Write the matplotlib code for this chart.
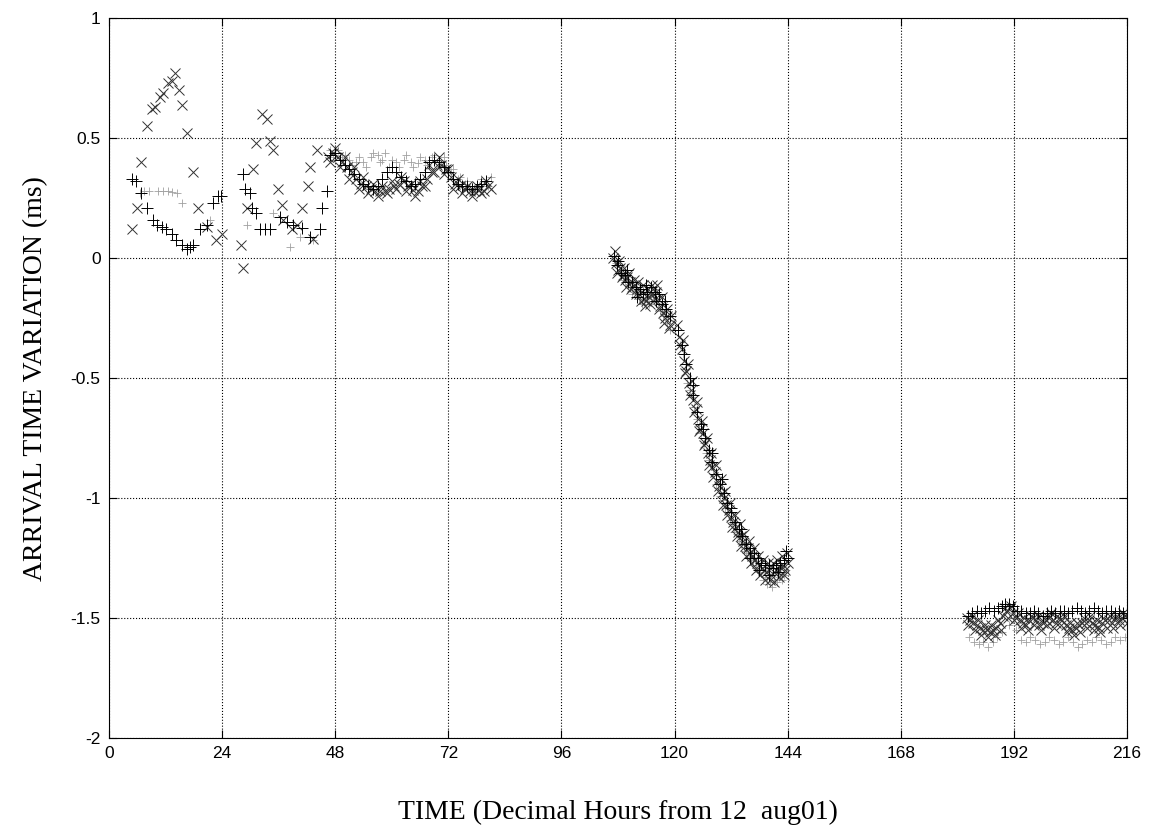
import matplotlib
matplotlib.use("Agg")
import matplotlib.pyplot as plt

plt.rcParams["axes.unicode_minus"] = False

# '+' series (black)
plus_t = [4.8, 5.7, 6.9, 8.0, 9.4, 10.1, 11.2, 12.2, 13.3, 14.3, 15.4, 16.6, 17.2, 17.9,
          19.3, 20.7, 22.1, 23.2, 23.7, 28.5, 28.9, 29.9, 30.3, 31.3, 32.0, 33.1, 34.2,
          36.3, 37.7, 39.1, 40.9, 42.6, 44.8, 45.1, 46.2,
          47, 48, 49, 50, 51, 52, 53, 54, 55, 56, 57, 58, 59, 60, 61, 62, 63, 64, 65, 66,
          67, 68, 69, 70, 71, 72, 73, 74, 75, 76, 77, 78, 79, 80,
          107.2, 107.8, 108.6, 109.4, 110.2, 111, 111.8, 112.6, 113.4, 114.2, 115, 115.8,
          116.6, 117.4, 118.2, 119, 120.8, 121.6, 122.4, 123.2, 124, 124.8, 125.6, 126.4,
          127.2, 128, 128.8, 129.6, 130.4, 131.2, 132, 132.8, 133.6, 134.4, 135.2, 136,
          136.8, 137.6, 138.4, 139.2, 140, 140.8, 141.6, 142.4, 143.2, 144,
          182.3, 183.2, 184.1, 185, 185.9, 186.8, 187.7, 188.6, 189.5, 190.2, 191, 191.8,
          192.7, 193.6, 194.5, 195.4, 196.3, 197.2, 198.1, 199, 199.9, 200.8, 201.7, 202.6,
          203.5, 204.4, 205.3, 206.2, 207.1, 208, 208.9, 209.8, 210.7, 211.6, 212.5, 213.4,
          214.3, 215.2]
plus_v = [0.33, 0.32, 0.27, 0.21, 0.16, 0.14, 0.13, 0.12, 0.10, 0.075, 0.054, 0.04, 0.047, 0.054,
          0.12, 0.14, 0.23, 0.26, 0.26, 0.35, 0.29, 0.27, 0.21, 0.19, 0.12, 0.12, 0.12,
          0.17, 0.15, 0.14, 0.125, 0.09, 0.12, 0.21, 0.28,
          0.43, 0.44, 0.41, 0.39, 0.37, 0.35, 0.33, 0.31, 0.30, 0.29, 0.30, 0.33, 0.36, 0.38,
          0.36, 0.34, 0.32, 0.30, 0.31, 0.33, 0.36, 0.40, 0.41, 0.40, 0.38, 0.36, 0.33, 0.31,
          0.30, 0.30, 0.29, 0.30, 0.31, 0.32,
          0.01, -0.03, -0.06, -0.07, -0.10, -0.10, -0.12, -0.13, -0.15, -0.14, -0.12, -0.14,
          -0.15, -0.19, -0.21, -0.24, -0.30, -0.36, -0.44, -0.50, -0.57, -0.64, -0.69, -0.75,
          -0.80, -0.85, -0.90, -0.94, -0.98, -1.02, -1.06, -1.10, -1.13, -1.16, -1.19, -1.21,
          -1.23, -1.25, -1.27, -1.28, -1.28, -1.29, -1.28, -1.27, -1.26, -1.25,
          -1.49, -1.48, -1.47, -1.48, -1.47, -1.46, -1.47, -1.46, -1.45, -1.44, -1.44, -1.45,
          -1.47, -1.47, -1.48, -1.48, -1.47, -1.48, -1.49, -1.48, -1.47, -1.48, -1.47, -1.47,
          -1.48, -1.47, -1.46, -1.47, -1.48, -1.47, -1.46, -1.47, -1.48, -1.47, -1.47, -1.48,
          -1.47, -1.48]

# more '+' points inside the dense stretch after 107 h
plus2_t = [108, 110, 112, 114, 116, 118, 122, 124, 126, 128, 130, 132, 134, 136, 138, 140,
           142, 143.6]
plus2_v = [-0.01, -0.05, -0.16, -0.11, -0.18, -0.18, -0.40, -0.53, -0.71, -0.81, -0.92,
           -1.04, -1.13, -1.25, -1.30, -1.32, -1.31, -1.22]

# 'x' series (dark)
cross_t = [4.8, 5.9, 6.9, 8.0, 9.1, 9.8, 10.8, 11.5, 12.5, 13.3, 14.0, 14.9, 15.6, 16.5,
           17.8, 18.9, 20.7, 22.8, 23.9, 28.1, 28.4, 29.2, 30.6, 31.3, 32.4, 33.5, 34.2,
           34.9, 35.9, 36.8, 36.9, 38.8, 39.8, 40.9, 42.3, 42.6, 43.3, 44.1,
           46.5, 47.5, 48.5, 49.5, 50.5, 51.5, 52.5, 53.5, 54.5, 55.5, 56.5, 57.5, 58.5,
           59.5, 60.5, 61.5, 62.5, 63.5, 64.5, 65.5, 66.5, 67.5, 68.5, 69.5, 70.5, 71.5,
           72.5, 73.5, 74.5, 75.5, 76.5, 77.5, 78.5, 79.5, 80.5,
           107, 107.5, 108, 108.5, 109, 109.5, 110, 110.5, 111, 111.5, 112, 112.5, 113,
           113.5, 114, 114.5, 115, 115.5, 116, 116.5, 117, 117.5, 118, 118.5, 119,
           121, 121.5, 122, 122.5, 123, 123.5, 124, 124.5, 125, 125.5, 126, 126.5, 127,
           127.5, 128, 128.5, 129, 129.5, 130, 130.5, 131, 131.5, 132, 132.5, 133, 133.5,
           134, 134.5, 135, 135.5, 136, 136.5, 137, 137.5, 138, 138.5, 139, 139.5, 140,
           140.5, 141, 141.5, 142, 142.5, 143, 143.5, 144,
           182, 182.7, 183.4, 184.1, 184.8, 185.5, 186.2, 186.9, 187.6, 188.3, 189, 189.7,
           190.4, 191.1, 191.8, 192.5, 193.2, 193.9, 194.6, 195.3, 196, 196.7, 197.4, 198.1,
           198.8, 199.5, 200.2, 200.9, 201.6, 202.3, 203, 203.7, 204.4, 205.1, 205.8, 206.5,
           207.2, 207.9, 208.6, 209.3, 210, 210.7, 211.4, 212.1, 212.8, 213.5, 214.2, 214.9,
           215.6]
cross_v = [0.12, 0.21, 0.40, 0.55, 0.62, 0.63, 0.67, 0.69, 0.73, 0.74, 0.77, 0.70, 0.64, 0.52,
           0.36, 0.21, 0.13, 0.075, 0.10, 0.054, -0.04, 0.21, 0.37, 0.48, 0.60, 0.58, 0.49,
           0.45, 0.29, 0.22, 0.16, 0.12, 0.14, 0.21, 0.30, 0.38, 0.08, 0.45,
           0.42, 0.44, 0.42, 0.40, 0.38, 0.36, 0.33, 0.31, 0.30, 0.29, 0.28, 0.28, 0.28,
           0.29, 0.30, 0.31, 0.32, 0.30, 0.285, 0.28, 0.30, 0.33, 0.36, 0.39, 0.39, 0.37,
           0.34, 0.31, 0.30, 0.29, 0.28, 0.28, 0.285, 0.28, 0.30,
           0.00, -0.02, -0.05, -0.04, -0.07, -0.09, -0.08, -0.10, -0.12, -0.11, -0.13, -0.15,
           -0.14, -0.17, -0.18, -0.16, -0.15, -0.13, -0.14, -0.17, -0.20, -0.23, -0.25, -0.24,
           -0.28,
           -0.33, -0.38, -0.43, -0.47, -0.52, -0.55, -0.59, -0.63, -0.67, -0.71, -0.73, -0.77,
           -0.81, -0.84, -0.87, -0.89, -0.93, -0.95, -0.98, -1.00, -1.03, -1.05, -1.08, -1.10,
           -1.12, -1.14, -1.16, -1.18, -1.20, -1.21, -1.23, -1.24, -1.26, -1.27, -1.28, -1.29,
           -1.30, -1.31, -1.30, -1.32, -1.31, -1.30, -1.31, -1.29, -1.28, -1.30, -1.27,
           -1.50, -1.51, -1.52, -1.53, -1.54, -1.55, -1.55, -1.56, -1.55, -1.54, -1.52, -1.49,
           -1.47, -1.46, -1.48, -1.50, -1.51, -1.52, -1.53, -1.51, -1.50, -1.51, -1.53, -1.52,
           -1.51, -1.50, -1.51, -1.52, -1.50, -1.51, -1.53, -1.54, -1.55, -1.54, -1.53, -1.52,
           -1.52, -1.51, -1.52, -1.53, -1.54, -1.52, -1.51, -1.51, -1.52, -1.50, -1.51, -1.50,
           -1.49]

# extra 'x' points that give the bands their width
cross2_t = [47, 48, 49, 50, 51, 52, 53, 54, 55, 56, 57, 58, 59, 60, 61, 62, 63, 64, 65, 66,
            67, 68, 69, 70, 71, 72, 73, 74, 75, 76, 77, 78, 79, 80, 81,
            107.3, 107.7, 108.3, 108.8, 109.3, 109.8, 110.3, 110.8, 111.3, 111.8, 112.3,
            112.8, 113.3, 113.8, 114.3, 114.8, 115.3, 115.8, 116.3, 116.8, 117.3, 117.8,
            118.3, 118.8, 119.3,
            120.6, 121.2, 121.8, 122.2, 122.8, 123.2, 123.8, 124.2, 124.8, 125.2, 125.8,
            126.2, 126.8, 127.2, 127.8, 128.2, 128.8, 129.2, 129.8, 130.2, 130.8, 131.2,
            131.8, 132.2, 132.8, 133.2, 133.8, 134.2, 134.8, 135.2, 135.8, 136.2, 136.8,
            137.2, 137.8, 138.2, 138.8, 139.2, 139.8, 140.2, 140.8, 141.2, 141.8, 142.2,
            142.8, 143.3, 143.8,
            182.3, 183, 183.7, 184.4, 185.1, 185.8, 186.5, 187.2, 187.9, 188.6, 189.3, 190,
            190.7, 191.4, 192.1, 192.8, 193.5, 194.2, 194.9, 195.6, 196.3, 197, 197.7, 198.4,
            199.1, 199.8, 200.5, 201.2, 201.9, 202.6, 203.3, 204, 204.7, 205.4, 206.1, 206.8,
            207.5, 208.2, 208.9, 209.6, 210.3, 211, 211.7, 212.4, 213.1, 213.8, 214.5, 215.2,
            215.9]
cross2_v = [0.40, 0.46, 0.38, 0.42, 0.33, 0.38, 0.29, 0.34, 0.27, 0.31, 0.26, 0.30, 0.27,
            0.32, 0.29, 0.34, 0.28, 0.31, 0.26, 0.32, 0.30, 0.39, 0.36, 0.42, 0.35, 0.37,
            0.29, 0.33, 0.27, 0.30, 0.26, 0.30, 0.27, 0.32, 0.29,
            0.03, -0.06, -0.01, -0.08, -0.04, -0.12, -0.06, -0.13, -0.09, -0.15, -0.10,
            -0.18, -0.11, -0.20, -0.13, -0.19, -0.11, -0.17, -0.11, -0.21, -0.16, -0.27,
            -0.21, -0.29, -0.24,
            -0.28, -0.36, -0.34, -0.48, -0.44, -0.57, -0.51, -0.64, -0.60, -0.72, -0.68,
            -0.78, -0.75, -0.86, -0.81, -0.91, -0.86, -0.97, -0.92, -1.03, -0.97, -1.07,
            -1.02, -1.12, -1.07, -1.16, -1.11, -1.20, -1.15, -1.24, -1.18, -1.27, -1.21,
            -1.30, -1.24, -1.32, -1.26, -1.34, -1.27, -1.34, -1.27, -1.35, -1.26, -1.33,
            -1.24, -1.32, -1.23,
            -1.53, -1.49, -1.55, -1.51, -1.57, -1.53, -1.58, -1.53, -1.57, -1.51, -1.55, -1.46,
            -1.50, -1.45, -1.51, -1.48, -1.54, -1.50, -1.55, -1.49, -1.53, -1.49, -1.55, -1.50,
            -1.53, -1.48, -1.54, -1.49, -1.53, -1.49, -1.56, -1.52, -1.57, -1.52, -1.56, -1.50,
            -1.54, -1.49, -1.55, -1.51, -1.56, -1.50, -1.54, -1.49, -1.54, -1.49, -1.53, -1.48,
            -1.52]

# third series (light grey)
gray_t = [6.6, 7.5, 8.5, 10.5, 11.5, 12.5, 13.3, 14.5, 15.4, 21.5, 29.2, 34.9, 38.4, 40.5, 43.3,
          47, 48, 49.5, 51, 52.5, 54, 55.5, 57, 58, 59.5, 61, 62.5, 64, 65.5, 67, 68.5, 70,
          71.5, 72.5, 74, 75.5, 77, 78.5, 80, 81,
          107.5, 108.5, 109.5, 110.5, 111.5, 112.5, 113.5, 114.5, 115.5, 116.5, 117.5, 118.5,
          121.2, 122.2, 123.2, 124.2, 125.2, 126.2, 127.2, 128.2, 129.2, 130.2, 131.2, 132.2,
          133.2, 134.2, 135.2, 136.2, 137.2, 138.2, 139.2, 140.2, 141.2, 142.2, 143.2,
          182.5, 183.5, 184.5, 185.5, 186.5, 187.5, 188.5, 189.5, 191, 192.5, 193.5, 194.5,
          195.5, 196.5, 197.5, 198.5, 199.5, 200.5, 201.5, 202.5, 203.5, 204.5, 205.5, 206.5,
          207.5, 208.5, 209.5, 210.5, 211.5, 212.5, 213.5, 214.5, 215.5]
gray_v = [0.27, 0.28, 0.28, 0.28, 0.28, 0.28, 0.275, 0.27, 0.23, 0.16, 0.14, 0.19, 0.047, 0.09, 0.075,
          0.45, 0.43, 0.42, 0.41, 0.40, 0.40, 0.42, 0.43, 0.41, 0.38, 0.40, 0.41, 0.40, 0.395,
          0.41, 0.42, 0.41, 0.39, 0.36, 0.33, 0.31, 0.30, 0.30, 0.32, 0.34,
          -0.02, -0.06, -0.10, -0.12, -0.14, -0.17, -0.18, -0.19, -0.17, -0.19, -0.24, -0.27,
          -0.36, -0.46, -0.55, -0.62, -0.70, -0.77, -0.84, -0.90, -0.96, -1.01, -1.06, -1.11,
          -1.15, -1.19, -1.23, -1.26, -1.29, -1.31, -1.33, -1.35, -1.34, -1.33, -1.32,
          -1.58, -1.60, -1.61, -1.60, -1.62, -1.60, -1.58, -1.56, -1.53, -1.55, -1.59, -1.60,
          -1.58, -1.59, -1.61, -1.60, -1.58, -1.59, -1.61, -1.60, -1.58, -1.60, -1.62, -1.61,
          -1.59, -1.60, -1.58, -1.59, -1.61, -1.60, -1.58, -1.59, -1.58]

gray2_t = [47.5, 48.5, 50, 51.5, 53, 54.5, 56, 57.5, 58.5, 60, 61.5, 63, 64.5, 66, 67.5, 69,
           70.5, 71, 73, 74.5, 76, 77.5, 79, 80.5,
           108, 109, 110, 111, 112, 113, 114, 115, 116, 117, 118, 119,
           121.7, 122.7, 123.7, 124.7, 125.7, 126.7, 127.7, 128.7, 129.7, 130.7, 131.7, 132.7,
           133.7, 134.7, 135.7, 136.7, 137.7, 138.7, 139.7, 140.7, 141.7, 142.7, 143.7]
gray2_v = [0.42, 0.45, 0.43, 0.39, 0.42, 0.38, 0.44, 0.40, 0.44, 0.41, 0.38, 0.43, 0.38, 0.42,
           0.39, 0.43, 0.39, 0.42, 0.37, 0.34, 0.32, 0.28, 0.33, 0.30,
           -0.02, -0.09, -0.09, -0.15, -0.13, -0.19, -0.15, -0.18, -0.13, -0.22, -0.22, -0.30,
           -0.40, -0.52, -0.58, -0.67, -0.73, -0.81, -0.86, -0.94, -0.99, -1.04, -1.09, -1.14,
           -1.18, -1.22, -1.25, -1.28, -1.31, -1.34, -1.36, -1.37, -1.35, -1.34, -1.30]

x_ticks = [0, 24, 48, 72, 96, 120, 144, 168, 192, 216]
y_ticks = [-2, -1.5, -1, -0.5, 0, 0.5, 1]
y_tick_labels = ["-2", "-1.5", "-1", "-0.5", "0", "0.5", "1"]

fig = plt.figure(figsize=(11.53, 8.32), dpi=100)
ax = fig.add_axes([0.0945, 0.113, 0.883, 0.865])

gray_style = dict(linestyle="none", marker="+", markersize=6, markeredgewidth=0.6,
                  color="#a0a0a0")
cross_style = dict(linestyle="none", marker="x", markersize=7, markeredgewidth=0.7,
                   color="#333333")
plus_style = dict(linestyle="none", marker="+", markersize=9, markeredgewidth=0.7,
                  color="black")

ax.plot(gray_t, gray_v, **gray_style)
ax.plot(gray2_t, gray2_v, **gray_style)
ax.plot(cross_t, cross_v, **cross_style)
ax.plot(cross2_t, cross2_v, **cross_style)
ax.plot(plus_t, plus_v, **plus_style)
ax.plot(plus2_t, plus2_v, **plus_style)

ax.set_xlim(0, 216)
ax.set_ylim(-2, 1)
ax.set_xticks(x_ticks)
ax.set_yticks(y_ticks)
ax.set_yticklabels(y_tick_labels)
ax.grid(True, linestyle=":", color="black", linewidth=0.8)
ax.tick_params(direction="in", top=True, right=True, length=6, labelsize=12.5, pad=6)
for lbl in ax.get_xticklabels() + ax.get_yticklabels():
    lbl.set_family("Liberation Sans")
for s in ax.spines.values():
    s.set_linewidth(0.8)

ax.set_xlabel("TIME (Decimal Hours from 12  aug01)", family="Liberation Serif",
              fontsize=20, labelpad=28)
ax.set_ylabel("ARRIVAL TIME VARIATION (ms)", family="Liberation Serif",
              fontsize=20, labelpad=16)

fig.savefig("out.png", dpi=100)
